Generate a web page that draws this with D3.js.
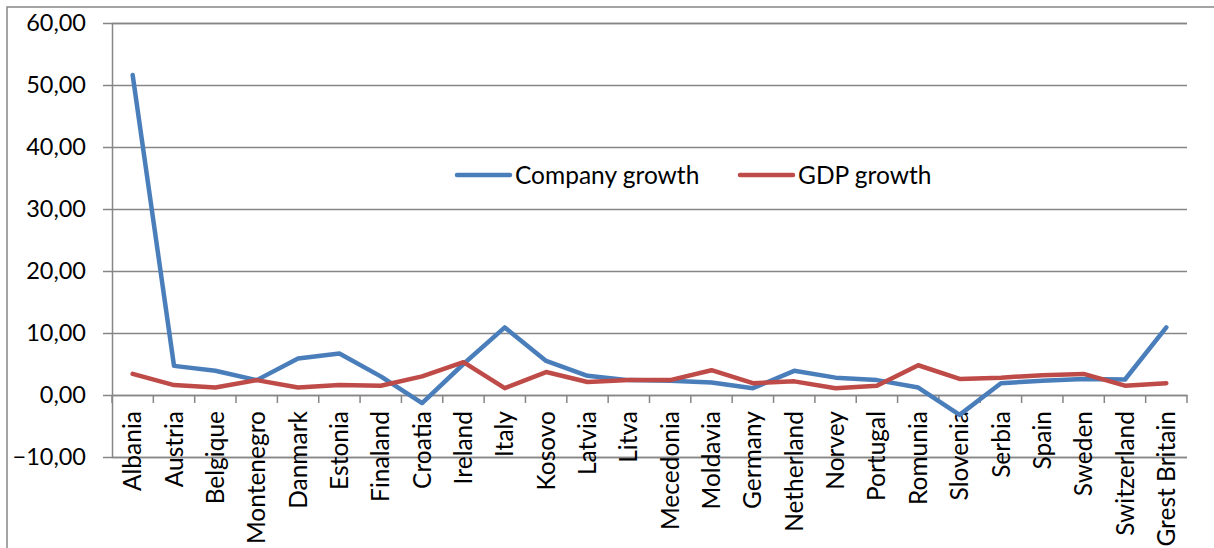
<!DOCTYPE html>
<html><head><meta charset="utf-8">
<script src="https://cdn.jsdelivr.net/npm/d3@7"></script>
<style>body{margin:0;background:#fff}svg{display:block}</style>
</head><body><svg id="c" width="1214" height="548"></svg>
<script>
const categories = ["Albania","Austria","Belgique","Montenegro","Danmark","Estonia","Finaland","Croatia","Ireland","Italy","Kosovo","Latvia","Litva","Mecedonia","Moldavia","Germany","Netherland","Norvey","Portugal","Romunia","Slovenia","Serbia","Spain","Sweden","Switzerland","Grest Britain"];
const companyGrowth = [51.6,4.7,3.9,2.4,5.9,6.7,3.0,-1.3,5.0,10.9,5.5,3.1,2.4,2.3,2.0,1.1,3.9,2.8,2.4,1.2,-3.2,1.9,2.3,2.6,2.5,10.9];
const gdpGrowth = [3.4,1.6,1.2,2.4,1.2,1.6,1.5,3.0,5.3,1.1,3.7,2.1,2.4,2.4,4.0,1.9,2.2,1.1,1.5,4.8,2.6,2.8,3.2,3.4,1.5,1.9];
const yTicks = [-10,0,10,20,30,40,50,60];
const seriesNames = ["Company growth","GDP growth"];
const colors = ["#4A7EBB","#BE4B48"];

const svg = d3.select("#c");
const font = "Lato, 'Open Sans', sans-serif";
const grid = "#868686";
const L = 112, R = 1187, T = 23, B = 457;

// outer frame
svg.append("rect").attr("x",7).attr("y",7).attr("width",1230).attr("height",560)
  .attr("fill","none").attr("stroke",grid).attr("stroke-width",1.5);

const x = d3.scaleBand().domain(categories).range([L,R]);
const y = d3.scaleLinear().domain([-10,60]).range([B,T]);

// gridlines + y axis
const yAxis = d3.axisLeft(y).tickValues(yTicks).tickSize(-(R-L))
  .tickFormat(d => d3.format(".2f")(d).replace(".",","));
const gy = svg.append("g").attr("transform",`translate(${L},0)`).call(yAxis);
gy.select(".domain").attr("stroke",grid).attr("stroke-width",1.5);
gy.selectAll(".tick line").attr("stroke",grid).attr("stroke-width",1.5).attr("x1",-9);
gy.selectAll(".tick text").attr("x",-26).attr("font-family",font).attr("font-size",23.5).attr("fill","#000");

// x axis at zero
const xAxis = d3.axisBottom(x).tickSize(0);
const gx = svg.append("g").attr("transform",`translate(0,${y(0)})`).call(xAxis);
gx.select(".domain").attr("stroke",grid).attr("stroke-width",1.5);
gx.selectAll(".tick text").attr("transform","rotate(-90)").attr("text-anchor","end")
  .attr("x",-16).attr("y",0).attr("dy","0.35em")
  .attr("font-family",font).attr("font-size",24.5).attr("fill","#000");
// category boundary ticks
const bounds = categories.map(c => x(c)).concat([R]);
gx.selectAll(".bt").data(bounds).enter().append("line")
  .attr("x1",d=>d).attr("x2",d=>d).attr("y1",0).attr("y2",8)
  .attr("stroke",grid).attr("stroke-width",1.5);

// lines
const cx = c => x(c) + x.bandwidth()/2;
[companyGrowth, gdpGrowth].forEach((vals,i) => {
  const line = d3.line().x((d,j)=>cx(categories[j])).y(d=>y(d));
  svg.append("path").datum(vals).attr("d",line).attr("fill","none")
    .attr("stroke",colors[i]).attr("stroke-width",4.5)
    .attr("stroke-linejoin","round").attr("stroke-linecap","round");
});

// legend
const legendX = [457, 740];
seriesNames.forEach((n,i) => {
  const g = svg.append("g").attr("transform",`translate(${legendX[i]},175)`);
  g.append("line").attr("x1",0).attr("x2",53).attr("stroke",colors[i]).attr("stroke-width",4.5).attr("stroke-linecap","round");
  g.append("text").attr("x",58).attr("dy","0.35em").attr("font-family",font).attr("font-size",24.5).text(n);
});
</script></body></html>
